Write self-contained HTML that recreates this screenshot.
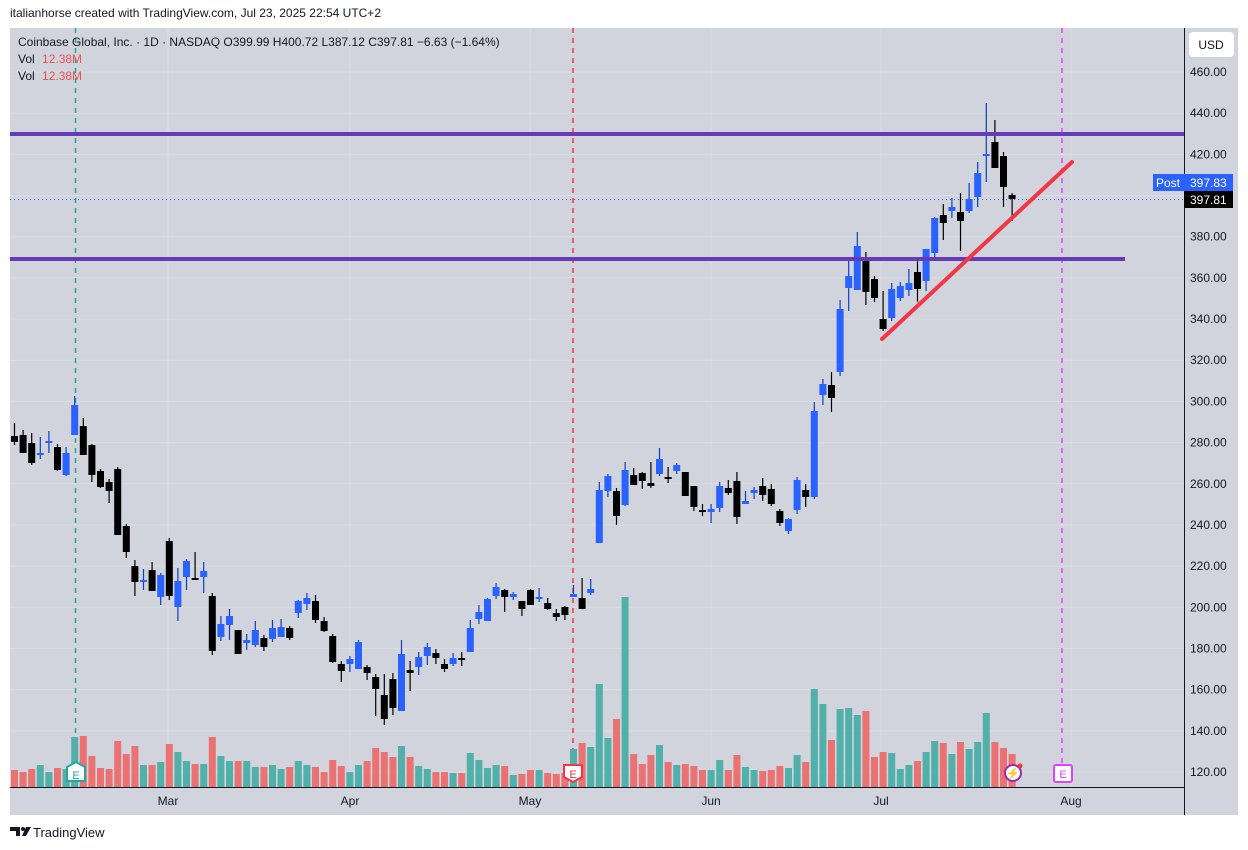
<!DOCTYPE html>
<html><head><meta charset="utf-8"><style>
html,body{margin:0;padding:0;background:#fff;width:1248px;height:850px;overflow:hidden;font-family:"Liberation Sans",sans-serif}
#hdr{position:absolute;left:10px;top:6px;font-size:12px;color:#131722}
#wrap{position:absolute;left:0;top:0}
</style></head><body>
<div id="hdr">italianhorse created with TradingView.com, Jul 23, 2025 22:54 UTC+2</div>
<svg id="wrap" width="1248" height="850" xmlns="http://www.w3.org/2000/svg" font-family="Liberation Sans, sans-serif">
<rect x="10" y="28" width="1228" height="787" fill="#d1d4dc"/>
<g id="grid" stroke="#dadde4" stroke-width="1"></g>
<line x1="75.5" y1="28" x2="75.5" y2="770" stroke="#26a69a" stroke-width="1.5" stroke-dasharray="5,5"/>
<line x1="573" y1="28" x2="573" y2="770" stroke="#f23645" stroke-width="1.5" stroke-dasharray="5,5"/>
<line x1="1062" y1="28" x2="1062" y2="770" stroke="#e040fb" stroke-width="1.5" stroke-dasharray="5,5"/>
<g id="vol"></g>
<g id="cdl"></g>
<line x1="10" y1="199.5" x2="1184" y2="199.5" stroke="#2962ff" stroke-width="1" stroke-dasharray="1,3"/>
<rect x="10" y="132" width="1174" height="4" fill="#673ab7"/>
<rect x="10" y="257" width="1115" height="4" fill="#673ab7"/>
<line x1="882" y1="339" x2="1072" y2="162" stroke="#f23645" stroke-width="4" stroke-linecap="round"/>
<line x1="1184.5" y1="28" x2="1184.5" y2="815" stroke="#131722"/>
<line x1="10" y1="787.5" x2="1184" y2="787.5" stroke="#131722"/>
<g id="ax" font-size="12" fill="#131722"></g>
<rect x="1189" y="32" width="45" height="25" rx="4" fill="#fff"/>
<text x="1211" y="49" font-size="12" text-anchor="middle" fill="#131722">USD</text>
<rect x="1153" y="174" width="31" height="17" fill="#2962ff"/>
<text x="1168" y="187" font-size="12" fill="#fff" text-anchor="middle">Post</text>
<rect x="1184" y="174" width="49" height="17" fill="#2962ff"/>
<text x="1190" y="187" font-size="12" fill="#fff">397.83</text>
<rect x="1184" y="191" width="49" height="17" fill="#000"/>
<text x="1190" y="204" font-size="12" fill="#fff">397.81</text>
<text x="18" y="46" font-size="12" fill="#131722">Coinbase Global, Inc. · 1D · NASDAQ  O399.99  H400.72  L387.12  C397.81  −6.63 (−1.64%)</text>
<text x="18" y="63" font-size="12" fill="#131722">Vol <tspan fill="#f05050" dx="4">12.38M</tspan></text>
<text x="18" y="80" font-size="12" fill="#131722">Vol <tspan fill="#f05050" dx="4">12.38M</tspan></text>
<g font-size="12" fill="#131722" text-anchor="middle">
<text x="168" y="805">Mar</text><text x="350" y="805">Apr</text><text x="530" y="805">May</text><text x="711" y="805">Jun</text><text x="881" y="805">Jul</text><text x="1071" y="805">Aug</text>
</g>
<g id="marks">
<path d="M67 767 L76 762 L85 767 L85 781 L67 781 Z" fill="#fff" stroke="#26a69a" stroke-width="2"/>
<text x="76" y="779" font-size="11" fill="#26a69a" text-anchor="middle">E</text>
<path d="M564 765 L582 765 L582 777 L573 782 L564 777 Z" fill="#fff" stroke="#f23645" stroke-width="2"/>
<text x="573" y="778" font-size="11" fill="#f23645" text-anchor="middle">E</text>
<circle cx="1013" cy="773" r="8" fill="#fff" stroke="#9c27b0" stroke-width="2"/>
<text x="1013" y="777" font-size="11" fill="#9c27b0" text-anchor="middle">⚡</text>
<circle cx="1020" cy="766" r="2.5" fill="#f23645"/>
<rect x="1054" y="765" width="18" height="17" rx="2" fill="#fff" stroke="#e040fb" stroke-width="2"/>
<text x="1063" y="778" font-size="11" fill="#e040fb" text-anchor="middle">E</text>
</g>
<g transform="translate(10,825)"><path d="M0 2h10v9h-4v-5h-6z" fill="#131722"/><circle cx="13" cy="4" r="2" fill="#131722"/><path d="M16 2h5l-5 9h-4z" fill="#131722"/></g>
<text x="33" y="837" font-size="13" fill="#131722">TradingView</text>
</svg>
<script>
(function(){
var NS="http://www.w3.org/2000/svg";
function el(p,t,a){var e=document.createElementNS(NS,t);for(var k in a)e.setAttribute(k,a[k]);p.appendChild(e);return e;}
var grid=document.getElementById('grid');
var ax=document.getElementById('ax');
for(var p=120;p<=460;p+=20){var y=772-(p-120)*2.0588;el(grid,'line',{x1:10,x2:1184,y1:y,y2:y});
 var t=el(ax,'text',{x:1190,y:y+4});t.textContent=p.toFixed(2);}
[168,350,530,711,881,1071].forEach(function(x){el(grid,'line',{x1:x,x2:x,y1:28,y2:787});});
var C=[
['k',436,442,423,445],['k',435,453,430,453],['k',443,463,433,465],['b',453,453,437,459],['b',441,441,431,453],
['k',447,470,444,471],['b',453,475,447,476],['b',405,435,396,435],['k',426,455,418,455],['k',445,475,444,482],
['k',471,487,469,488],['k',482,491,479,503],['k',469,535,467,535],['k',526,552,524,558],['k',566,582,560,596],
['b',580,580,569,590],['k',570,591,562,591],['b',575,597,573,605],['k',541,596,538,600],['b',581,607,568,621],
['b',561,577,559,590],['k',578,578,552,580],['b',571,577,562,593],['k',596,651,593,655],['b',624,637,616,641],
['b',616,625,609,640],['k',630,654,630,654],['b',640,643,634,650],['b',630,645,621,647],['k',638,647,635,651],
['b',628,639,620,642],['b',627,637,619,637],['k',628,638,626,640],['b',601,613,600,618],['b',598,604,593,610],
['k',601,620,595,623],['k',621,631,617,632],['k',636,662,634,663],['k',664,671,661,682],['b',659,664,656,672],
['b',642,669,640,669],['k',667,673,665,680],['k',677,689,674,716],['k',695,719,674,725],['k',679,708,673,715],
['b',654,711,640,711],['k',670,673,661,691],['b',657,667,652,675],['b',647,656,643,665],['k',653,658,649,664],
['k',664,669,659,672],['b',658,664,653,666],['k',658,658,652,666],['b',628,652,620,652],['b',612,619,605,624],
['b',599,621,598,621],['b',587,596,583,599],['k',590,597,589,612],['b',594,597,592,600],['k',601,609,601,616],
['k',590,605,589,605],['b',597,597,588,602],['k',603,609,598,610],['k',613,617,609,621],['k',607,615,606,620],
['b',594,597,585,597],['k',598,609,578,609],['b',589,593,579,595],['b',490,543,482,543],['b',476,491,474,497],
['k',491,516,488,525],['b',470,505,462,506],['k',475,485,468,485],['k',473,481,472,489],['k',483,486,462,488],
['b',459,474,448,476],['k',477,477,467,483],['b',465,471,463,474],['k',472,496,472,496],['k',486,507,486,511],
['k',510,510,504,516],['b',509,512,504,523],['b',486,508,482,512],['k',488,493,480,495],['k',481,517,472,524],
['b',501,504,491,504],['b',490,493,487,499],['k',486,495,478,501],['k',489,504,484,506],['k',511,523,509,526],
['b',519,531,518,534],['b',480,510,477,514],['k',490,497,484,507],['b',411,497,402,499],['b',384,395,379,405],
['k',385,398,372,412],['b',309,372,300,376],['b',276,288,258,311],['b',246,290,232,290],['k',258,292,252,305],
['k',279,298,276,302],['k',319,329,291,331],['b',289,318,283,321],['b',286,298,282,301],['b',283,290,269,296],
['k',272,289,259,302],['b',249,281,249,291],['b',218,253,217,259],['k',215,223,204,240],['b',207,211,198,218],
['k',212,221,193,251],['b',199,211,183,213],['b',173,197,162,207],['b',154,154,103,182],['k',142,168,120,168],
['k',156,187,152,207],['k',195,199,193,221]];
var V=[770,'r',772,'r',769,'r',765,'t',772,'t',768,'r',769,'t',737,'t',736,'r',756,'r',768,'r',769,'r',741,'r',754,'r',746,'r',
765,'t',765,'r',762,'t',744,'r',752,'t',761,'t',764,'r',764,'t',737,'r',756,'t',761,'t',761,'r',761,'t',767,'t',767,'r',
765,'t',769,'t',767,'r',761,'t',765,'t',767,'r',772,'r',760,'r',766,'r',772,'t',765,'t',761,'r',748,'r',752,'r',757,'r',
746,'t',757,'r',766,'t',769,'t',772,'r',772,'r',773,'t',773,'r',753,'t',760,'t',768,'t',765,'t',766,'r',775,'t',774,'r',
770,'r',770,'t',773,'r',774,'r',773,'r',749,'t',743,'r',747,'t',684,'t',738,'t',719,'r',597,'t',754,'r',764,'r',755,'r',
745,'t',762,'r',765,'t',764,'r',766,'r',770,'r',770,'t',760,'t',770,'r',755,'r',767,'t',770,'t',771,'r',770,'r',766,'r',
768,'t',755,'t',762,'r',689,'t',704,'t',740,'r',709,'t',708,'t',715,'t',711,'r',757,'r',752,'r',753,'t',769,'t',765,'t',
761,'r',752,'t',741,'t',743,'r',754,'t',742,'r',749,'t',742,'t',713,'t',742,'r',748,'r',754,'r'];
var vg=document.getElementById('vol'),cg=document.getElementById('cdl');
for(var i=0;i<117;i++){var x=14.5+8.6*i;
 var vt=V[2*i],col=V[2*i+1]=='t'?'#52b0aa':'#eb7272';
 el(vg,'rect',{x:x-3.5,y:vt,width:7,height:787-vt,fill:col});
 var c=C[i];var f=c[0]=='b'?'#2962ff':'#000';var wf=c[0]=='b'?'#0d3fbf':'#000';
 el(cg,'rect',{x:x-0.6,y:c[3],width:1.2,height:c[4]-c[3],fill:wf});
 var h=c[2]-c[1];if(h<2){h=2;}
 el(cg,'rect',{x:x-3.5,y:c[1],width:7,height:h,fill:f});
}
})();
</script>
</body></html>
